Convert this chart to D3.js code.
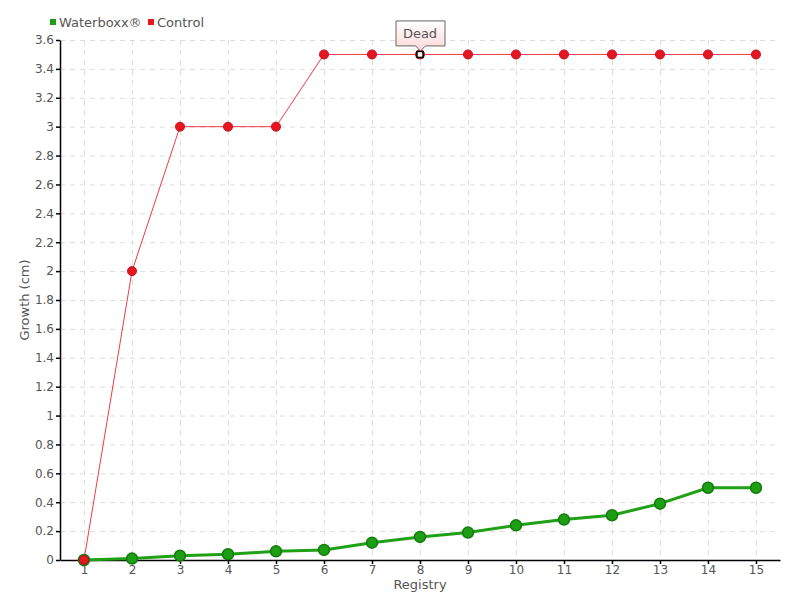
<!DOCTYPE html>
<html>
<head>
<meta charset="utf-8">
<script src="https://cdn.jsdelivr.net/npm/d3@7"></script>
<style>
  body { margin: 0; background: #fff; }
  text { font-family: "DejaVu Sans", sans-serif; fill: #555; }
</style>
</head>
<body>
<div id="chart"></div>
<script>
const registry = [1, 2, 3, 4, 5, 6, 7, 8, 9, 10, 11, 12, 13, 14, 15];
const waterboxx = [0, 0.01, 0.03, 0.04, 0.06, 0.07, 0.12, 0.16, 0.19, 0.24, 0.28, 0.31, 0.39, 0.5, 0.5];
const control = [0, 2, 3, 3, 3, 3.5, 3.5, 3.5, 3.5, 3.5, 3.5, 3.5, 3.5, 3.5, 3.5];
const yTicks = d3.range(0, 3.61, 0.2).map(v => +v.toFixed(1));

const width = 800;
const height = 600;
const margin = { top: 40, right: 20, bottom: 40, left: 60 };
const font = '"DejaVu Sans", sans-serif';

const svg = d3.select('#chart')
  .append('svg')
    .attr('width', width)
    .attr('height', height);

const x = d3.scaleLinear()
  .domain([0.5, 15.5])
  .range([margin.left, width - margin.right]);

const y = d3.scaleLinear()
  .domain([0, 3.6])
  .range([height - margin.bottom, margin.top]);

// grid
const grid = svg.append('g')
  .attr('stroke', '#ddd')
  .attr('stroke-dasharray', '5,5');
grid.selectAll('.gy')
  .data(yTicks.filter(d => d > 0))
  .enter()
  .append('line')
    .attr('x1', margin.left)
    .attr('x2', width - margin.right)
    .attr('y1', d => y(d) + 0.5)
    .attr('y2', d => y(d) + 0.5);
grid.selectAll('.gx')
  .data(registry)
  .enter()
  .append('line')
    .attr('x1', d => x(d) + 0.5)
    .attr('x2', d => x(d) + 0.5)
    .attr('y1', margin.top)
    .attr('y2', height - margin.bottom);

// axes
const xAxis = svg.append('g')
  .attr('transform', `translate(0,${height - margin.bottom})`)
  .call(d3.axisBottom(x).tickValues(registry).tickFormat(d3.format('d')).tickSize(4).tickSizeOuter(0));
const yAxis = svg.append('g')
  .attr('transform', `translate(${margin.left},0)`)
  .call(d3.axisLeft(y).tickValues(yTicks).tickFormat(d => String(d)).tickSize(4).tickSizeOuter(0));

[xAxis, yAxis].forEach(a => {
  a.select('.domain').attr('stroke', '#000').attr('stroke-width', 1.5);
  a.selectAll('.tick line').attr('stroke', '#000').attr('stroke-width', 1.5);
  a.selectAll('.tick text')
    .style('font-family', font)
    .style('font-size', '12px')
    .attr('fill', '#555');
});
xAxis.selectAll('.tick text').attr('y', 5).attr('dy', '0.75em');
yAxis.selectAll('.tick text').attr('x', -6);

svg.append('text')
  .attr('x', (margin.left + width - margin.right) / 2)
  .attr('y', 589)
  .attr('text-anchor', 'middle')
  .style('font-size', '13px')
  .text('Registry');

svg.append('text')
  .attr('transform', `translate(29,${(margin.top + height - margin.bottom) / 2}) rotate(-90)`)
  .attr('text-anchor', 'middle')
  .style('font-size', '13px')
  .text('Growth (cm)');

// series
const line = d3.line()
  .x((d, i) => x(registry[i]))
  .y(d => y(d));

svg.append('path')
  .datum(control)
  .attr('fill', 'none')
  .attr('stroke', '#f03a48')
  .attr('stroke-width', 1)
  .attr('d', line);

svg.append('path')
  .datum(waterboxx)
  .attr('fill', 'none')
  .attr('stroke', '#1fa015')
  .attr('stroke-width', 3)
  .attr('d', line);

svg.append('g')
  .selectAll('circle')
  .data(waterboxx)
  .enter()
  .append('circle')
    .attr('cx', (d, i) => x(registry[i]))
    .attr('cy', d => y(d))
    .attr('r', 5.5)
    .attr('fill', '#1e9e14')
    .attr('stroke', '#137a0c')
    .attr('stroke-width', 1.5);

svg.append('g')
  .selectAll('circle')
  .data(control)
  .enter()
  .append('circle')
    .attr('cx', (d, i) => x(registry[i]))
    .attr('cy', d => y(d))
    .attr('r', 4.5)
    .attr('fill', '#e8141f')
    .attr('stroke', '#c40e18')
    .attr('stroke-width', 1);

// hovered point + tooltip
const hi = 7;
const hx = x(registry[hi]);
const hy = y(control[hi]);
svg.append('rect')
  .attr('x', hx - 3)
  .attr('y', hy - 3)
  .attr('width', 6)
  .attr('height', 6)
  .attr('fill', '#fff')
  .attr('stroke', '#000')
  .attr('stroke-width', 1.5);

const defs = svg.append('defs');
const grad = defs.append('linearGradient')
  .attr('id', 'tip')
  .attr('x1', 0).attr('y1', 0).attr('x2', 0).attr('y2', 1);
grad.append('stop').attr('offset', '0%').attr('stop-color', '#fff');
grad.append('stop').attr('offset', '100%').attr('stop-color', '#fcd8d8');

const tw = 49, th = 25, tTop = hy - 34;
svg.append('path')
  .attr('d', `M${hx - tw / 2 + 0.5},${tTop + 0.5} h${tw} v${th} h${-(tw / 2 - 5)} l-5,5 l-5,-5 h${-(tw / 2 - 5)} Z`)
  .attr('fill', 'url(#tip)')
  .attr('stroke', '#666')
  .attr('stroke-width', 1);
svg.append('text')
  .attr('x', hx)
  .attr('y', tTop + 18)
  .attr('text-anchor', 'middle')
  .style('font-size', '13px')
  .text('Dead');

// legend
const legend = svg.append('g').attr('transform', 'translate(50,22)');
const items = [
  { name: 'Waterboxx®', color: '#1e9e14', dx: 0 },
  { name: 'Control', color: '#e8141f', dx: 98 }
];
items.forEach(it => {
  legend.append('rect')
    .attr('x', it.dx)
    .attr('y', -3)
    .attr('width', 6)
    .attr('height', 6)
    .attr('fill', it.color);
  legend.append('text')
    .attr('x', it.dx + 9)
    .attr('y', 5)
    .style('font-size', '13px')
    .text(it.name);
});
</script>
</body>
</html>
